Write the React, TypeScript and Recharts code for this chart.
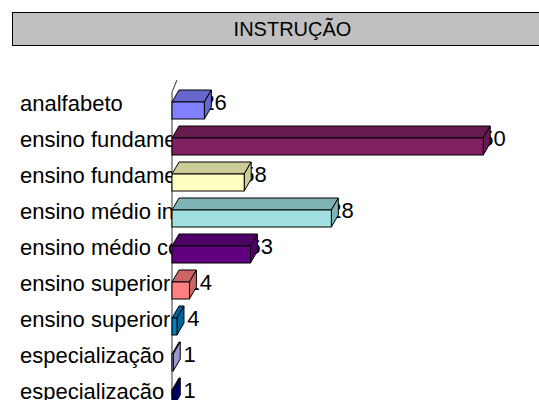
import React from "react";
import { Bar, BarChart, Customized, XAxis, YAxis } from "recharts";

const categories = [
  "analfabeto",
  "ensino fundamental incompleto",
  "ensino fundamental completo",
  "ensino médio incompleto",
  "ensino médio completo",
  "ensino superior incompleto",
  "ensino superior completo",
  "especialização incompleta",
  "especialização completa",
];
const values = [26, 250, 58, 128, 63, 14, 4, 1, 1];
const frontColors = ["#8080ff", "#802060", "#ffffc0", "#a0e0e0", "#600080", "#ff8080", "#0080c0", "#c0c0ff", "#000080"];
const topColors = ["#6666cc", "#661a4d", "#cccc99", "#80b3b3", "#4d0066", "#cc6666", "#006699", "#9999cc", "#000066"];

const data = categories.map((name, i) => ({ name, value: values[i] }));

const FONT = '"Liberation Sans", Arial, sans-serif';
const DX = 7; // depth of the 3d bars
const DY = 12;
const AXIS_X = 172;

function CategoryTick(props: any) {
  const { y, payload, index } = props;
  const id = `clip-cat-${index}`;
  return (
    <g>
      <defs>
        <clipPath id={id}>
          <rect x={0} y={y - 30} width={AXIS_X} height={60} />
        </clipPath>
      </defs>
      <text x={20} y={y + 7} fontSize={22} fontFamily={FONT} fill="#000" clipPath={`url(#${id})`}>
        {payload.value}
      </text>
    </g>
  );
}

// label drawn first so the bar faces hide part of it, like the original
function Bar3D(props: any) {
  const { x, y, width, height, index, value } = props;
  const fy = y + DY;
  const fh = height - DY;
  const x1 = x + width;
  return (
    <g>
      <text x={x1 + 22.5} y={fy + 8} textAnchor="end" fontSize={22} fontFamily={FONT} fill="#000">
        {value}
      </text>
      <polygon
        points={`${x},${fy} ${x1},${fy} ${x1 + DX},${y} ${x + DX},${y}`}
        fill={topColors[index]}
        stroke="#000"
        strokeWidth={1}
        strokeLinejoin="round"
      />
      <polygon
        points={`${x1},${fy} ${x1 + DX},${y} ${x1 + DX},${y + fh} ${x1},${fy + fh}`}
        fill={topColors[index]}
        stroke="#000"
        strokeWidth={1}
        strokeLinejoin="round"
      />
      <rect x={x} y={fy} width={width} height={fh} fill={frontColors[index]} stroke="#000" strokeWidth={1} />
    </g>
  );
}

function Wall() {
  return (
    <g>
      <polygon
        points={`${AXIS_X},430 ${AXIS_X},92 ${AXIS_X + DX},80 ${AXIS_X + DX},430`}
        fill="#fff"
        stroke="none"
      />
      <polyline points={`${AXIS_X},430 ${AXIS_X},92 ${AXIS_X + DX - 2},80`} fill="none" stroke="#333" strokeWidth={1} />
    </g>
  );
}

export default function App() {
  return (
    <div style={{ position: "absolute", left: 0, top: 0, width: 539, height: 400, overflow: "hidden", background: "#fff" }}>
      <div
        style={{
          position: "absolute",
          left: 12,
          top: 12,
          width: 559,
          height: 32,
          background: "#c0c0c0",
          border: "1px solid #000",
          fontFamily: FONT,
          fontSize: 20,
          lineHeight: "32px",
          textAlign: "center",
          color: "#000",
        }}
      >
        INSTRUÇÃO
      </div>
      <div style={{ position: "absolute", left: 0, top: 0 }}>
        <BarChart
          layout="vertical"
          width={543}
          height={420}
          data={data}
          margin={{ top: 86, right: 0, bottom: 10, left: 0 }}
        >
          <XAxis type="number" domain={[0, 298]} hide />
          <YAxis
            type="category"
            dataKey="name"
            width={AXIS_X}
            axisLine={false}
            tickLine={false}
            interval={0}
            tick={<CategoryTick />}
          />
          <Customized component={Wall} />
          <Bar dataKey="value" barSize={29} shape={<Bar3D />} isAnimationActive={false} />
        </BarChart>
      </div>
    </div>
  );
}
